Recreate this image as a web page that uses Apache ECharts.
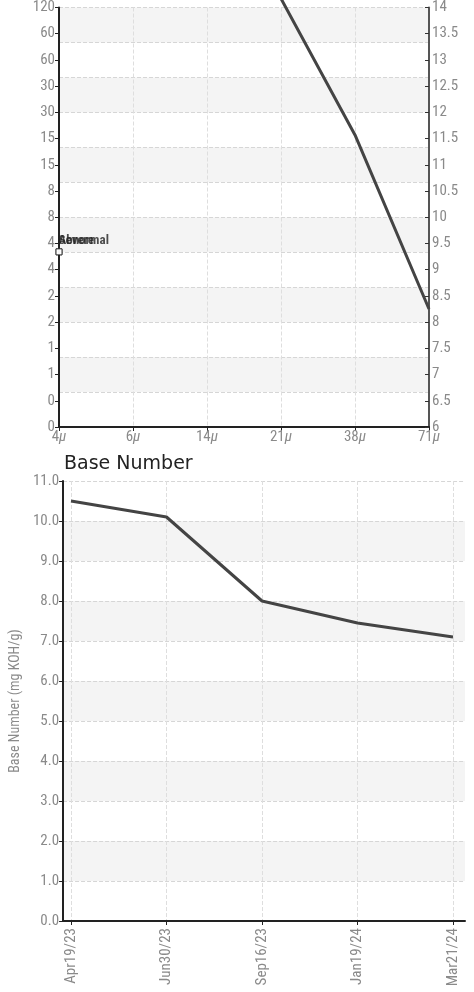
<!DOCTYPE html>
<html>
<head>
<meta charset="utf-8">
<style>
  html, body { margin: 0; padding: 0; background: #fff; }
  #chart { width: 474px; height: 992px; }
</style>
</head>
<body>
<div id="chart"></div>
<script src="https://cdn.jsdelivr.net/npm/echarts@6/dist/echarts.min.js"></script>
<script>
// top chart: particle count vs size
var sizeLabels = ['4', '6', '14', '21', '38', '71'];
var countValues = [null, null, null, 14.17, 11.57, 8.25];
var leftTickLabels = ['0', '0', '1', '1', '2', '2', '4', '4', '8', '8', '15', '15', '30', '30', '60', '60', '120'];
var markerNames = ['Abnormal', 'Severe'];
var markerValues = [9.34, 9.34];

// bottom chart: base number
var sampleDates = ['Apr19/23', 'Jun30/23', 'Sep16/23', 'Jan19/24', 'Mar21/24'];
var baseNumber = [10.5, 10.1, 8.0, 7.45, 7.1];

var narrowFont = '"Roboto Condensed", "Liberation Sans Narrow", "DejaVu Sans Condensed", sans-serif';
var labelGray = '#8a8a8a';
var dashed = { show: true, lineStyle: { color: '#d6d6d6', type: 'dashed', width: 1 } };
var bands = { show: true, areaStyle: { color: ['rgba(255,255,255,0)', '#f4f4f4'] } };

var chart = echarts.init(document.getElementById('chart'), null, { renderer: 'canvas' });

var option = {
    animation: false,
    title: {
        text: 'Base Number',
        left: 59, top: 450,
        textStyle: { fontFamily: 'DejaVu Sans', fontSize: 19, fontWeight: 'normal', color: '#222' }
    },
    grid: [
        { left: 59, right: 45, top: 5.5, height: 421.5 },
        { left: 59, right: 9, top: 481, bottom: 71 },
        { left: 71, right: 21, top: 481, bottom: 71 }
    ],
    xAxis: [
        {
            gridIndex: 0, type: 'category', boundaryGap: false, data: sizeLabels,
            axisLine: { lineStyle: { color: '#222', width: 2 } },
            axisTick: { show: true, length: 4, lineStyle: { color: '#222' } },
            axisLabel: {
                margin: 3, color: labelGray, fontFamily: narrowFont, fontSize: 15,
                formatter: function (v) { return v + '{i|μ}'; },
                rich: { i: { fontStyle: 'italic', color: labelGray, fontFamily: narrowFont, fontSize: 15 } }
            },
            splitLine: { show: true, lineStyle: { color: '#dedede', type: 'dashed' } }
        },
        {
            gridIndex: 1, type: 'value', min: 0, max: 1,
            axisLine: { show: true, onZero: false, lineStyle: { color: '#222', width: 2 } },
            axisTick: { show: false }, axisLabel: { show: false }, splitLine: { show: false }
        },
        {
            gridIndex: 2, type: 'category', boundaryGap: false, data: sampleDates,
            axisLine: { show: false },
            axisTick: { show: true, length: 4, lineStyle: { color: '#222' } },
            axisLabel: { rotate: 90, margin: 7, color: labelGray, fontFamily: narrowFont, fontSize: 15 },
            splitLine: { show: true, lineStyle: { color: '#dedede', type: 'dashed' } }
        }
    ],
    yAxis: [
        {
            gridIndex: 0, type: 'value', position: 'left', min: 6, max: 14, interval: 0.5,
            axisLine: { show: true, lineStyle: { color: '#222', width: 2 } },
            axisTick: { show: true, length: 4, lineStyle: { color: '#222' } },
            axisLabel: {
                margin: 4, color: labelGray, fontFamily: narrowFont, fontSize: 15,
                formatter: function (v) { return leftTickLabels[Math.round((v - 6) * 2)]; }
            },
            splitLine: { show: false }
        },
        {
            gridIndex: 0, type: 'value', position: 'right', min: 6, max: 14, interval: 0.5,
            axisLine: { show: true, lineStyle: { color: '#555', width: 2 } },
            axisTick: { show: true, length: 4, inside: true, lineStyle: { color: '#333' } },
            axisLabel: { margin: 3, color: labelGray, fontFamily: narrowFont, fontSize: 15 },
            splitLine: { show: false }
        },
        {
            // background bands and dashed rows of the top chart
            gridIndex: 0, type: 'value', position: 'left', min: 0, max: 12, interval: 1,
            axisLine: { show: false }, axisTick: { show: false }, axisLabel: { show: false },
            splitLine: dashed, splitArea: bands
        },
        {
            gridIndex: 1, type: 'value', min: 0, max: 11, interval: 1,
            name: 'Base Number (mg KOH/g)', nameLocation: 'middle', nameGap: 32,
            nameTextStyle: { color: labelGray, fontFamily: narrowFont, fontSize: 14 },
            axisLine: { show: true, lineStyle: { color: '#222', width: 2 } },
            axisTick: { show: true, length: 4, lineStyle: { color: '#222' } },
            axisLabel: {
                margin: 4, color: labelGray, fontFamily: narrowFont, fontSize: 15,
                formatter: function (v) { return v.toFixed(1); }
            },
            splitLine: dashed, splitArea: bands
        },
        {
            gridIndex: 2, type: 'value', min: 0, max: 11, show: false
        }
    ],
    series: [
        {
            type: 'line', xAxisIndex: 0, yAxisIndex: 1, data: countValues,
            clip: false, showSymbol: false, symbol: 'none',
            lineStyle: { color: '#444', width: 3 }
        },
        {
            type: 'scatter', xAxisIndex: 0, yAxisIndex: 1,
            data: markerNames.map(function (n, i) { return { name: n, value: [0, markerValues[i]] }; }),
            symbol: 'rect', symbolSize: 6,
            itemStyle: { color: '#fff', borderColor: '#222', borderWidth: 1 },
            label: {
                show: true, position: [3, -14], formatter: '{b}',
                color: '#222', fontFamily: narrowFont, fontSize: 13, fontWeight: 'bold'
            }
        },
        {
            type: 'line', xAxisIndex: 2, yAxisIndex: 4, data: baseNumber,
            showSymbol: false, symbol: 'none',
            lineStyle: { color: '#444', width: 3 }
        }
    ]
};

chart.setOption(option);
</script>
</body>
</html>
